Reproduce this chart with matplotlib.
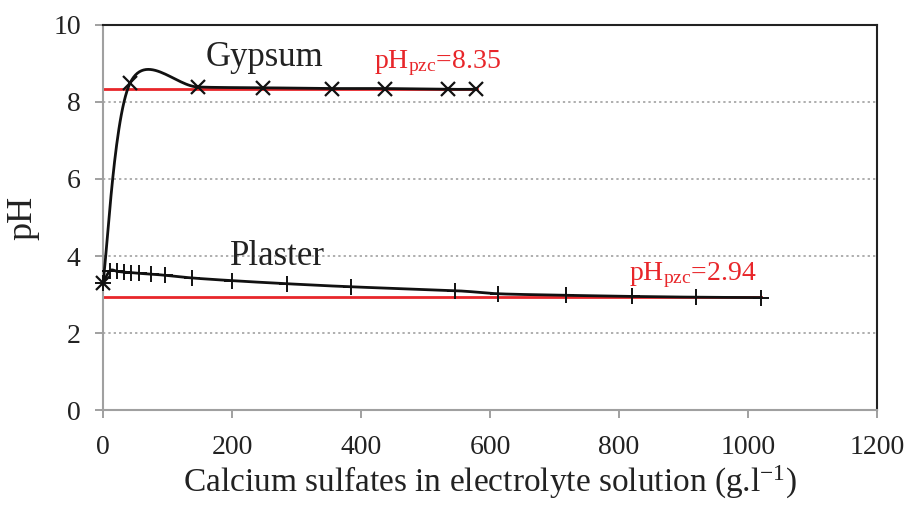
import numpy as np
import matplotlib
matplotlib.use('Agg')
import matplotlib.pyplot as plt

plt.rcParams['font.family'] = ['Liberation Serif', 'DejaVu Serif']
plt.rcParams['mathtext.fontset'] = 'custom'
plt.rcParams['mathtext.rm'] = 'Liberation Serif'
plt.rcParams['mathtext.it'] = 'Liberation Serif:italic'

# data
gypsum_x = [0, 42, 147, 248, 355, 437, 535, 578]
gypsum_ph = [3.3, 8.49, 8.39, 8.37, 8.35, 8.35, 8.33, 8.33]
plaster_x = [0, 11, 22, 33, 43, 56, 74, 96, 138, 200, 285, 385, 545, 612, 718, 820, 920, 1020]
plaster_ph = [3.3, 3.62, 3.6, 3.58, 3.57, 3.55, 3.53, 3.5, 3.43, 3.36, 3.28, 3.2, 3.1, 3.02, 2.98, 2.95, 2.93, 2.92]
pzc_gypsum = 8.35
pzc_plaster = 2.94
pzc_gypsum_end = 580
pzc_plaster_end = 1020

red = '#e8262a'


def smooth(xs, ys, n=30):
    # catmull-rom style smoothing, like the excel "smoothed line"
    p = np.column_stack([xs, ys]).astype(float)
    p = np.vstack([p[0], p, p[-1]])
    out = []
    for i in range(1, len(p) - 2):
        p0, p1, p2, p3 = p[i-1], p[i], p[i+1], p[i+2]
        c1 = p1 + (p2 - p0) / 6
        c2 = p2 - (p3 - p1) / 6
        t = np.linspace(0, 1, n)[:, None]
        seg = (1-t)**3*p1 + 3*(1-t)**2*t*c1 + 3*(1-t)*t**2*c2 + t**3*p2
        out.append(seg)
    out = np.vstack(out)
    return out[:, 0], out[:, 1]


fig = plt.figure(figsize=(9.08, 5.08), dpi=100)
ax = fig.add_axes([0.1134, 0.1929, 0.8525, 0.7579])

ax.plot([0, pzc_gypsum_end], [pzc_gypsum, pzc_gypsum], color=red, lw=2, zorder=2)
ax.plot([0, pzc_plaster_end], [pzc_plaster, pzc_plaster], color=red, lw=2, zorder=2)

sx, sy = smooth(gypsum_x, gypsum_ph)
ax.plot(sx, sy, color='#111111', lw=2, zorder=3)
ax.plot(gypsum_x, gypsum_ph, ls='none', marker='x', ms=10, mew=1.6, color='#111111', zorder=4, clip_on=False)

sx, sy = smooth(plaster_x, plaster_ph)
ax.plot(sx, sy, color='#111111', lw=2, zorder=3)
ax.plot(plaster_x, plaster_ph, ls='none', marker='+', ms=11, mew=1.4, color='#111111', zorder=4, clip_on=False)

ax.text(250, 9.15, 'Gypsum', fontsize=25, ha='center', va='center', color='#222222')
ax.text(197, 4.0, 'Plaster', fontsize=25, ha='left', va='center', color='#222222')
ax.text(420, 9.02, r'pH$_{\mathrm{pzc}}$=8.35', fontsize=20, color=red, ha='left', va='center')
ax.text(815, 3.5, r'pH$_{\mathrm{pzc}}$=2.94', fontsize=20, color=red, ha='left', va='center')

ax.set_xlim(0, 1200)
ax.set_ylim(0, 10)
ax.set_xticks(range(0, 1201, 200))
ax.set_yticks(range(0, 11, 2))
ax.tick_params(labelsize=20, colors='#999999', labelcolor='#222222', length=6, width=1.3, pad=10)
ax.tick_params(axis='x', pad=12)
for y in [2, 4, 6, 8]:
    ax.axhline(y, color='#999999', ls=(0, (1.5, 2)), lw=1.1, zorder=1)

ax.spines['left'].set_color('#a0a0a0')
ax.spines['bottom'].set_color('#a0a0a0')
ax.spines['left'].set_linewidth(1.5)
ax.spines['bottom'].set_linewidth(1.5)
ax.spines['top'].set_color('#222222')
ax.spines['right'].set_color('#222222')
ax.spines['top'].set_linewidth(1.5)
ax.spines['right'].set_linewidth(1.5)

ax.set_xlabel(r'Calcium sulfates in electrolyte solution (g.l$^{\mathrm{-1}}$)', fontsize=24, color='#222222', labelpad=3)
ax.set_ylabel('pH', fontsize=26, color='#222222', labelpad=10)

fig.savefig('out.png', dpi=100)
